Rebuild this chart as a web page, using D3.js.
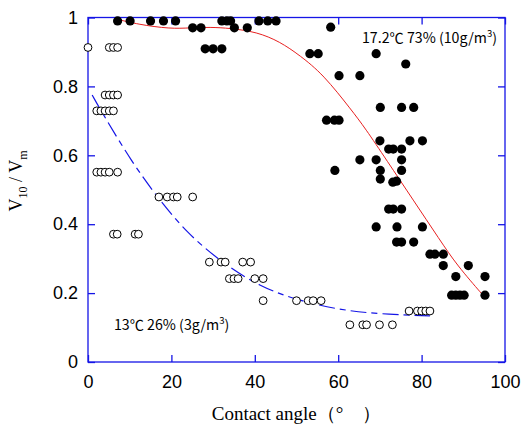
<!DOCTYPE html>
<html><head><meta charset="utf-8">
<script src="https://cdn.jsdelivr.net/npm/d3@7"></script>
<style>body{margin:0;background:#fff}svg{display:block}</style>
</head><body>
<script>
// Data
const hiHumidity = [ // 17.2°C 73% (10g/m3), filled dots [angle, V10/Vm]
 [7.1,0.99],[10.1,0.99],[15,0.99],[18.1,0.99],[21,0.99],[32.1,0.99],[33.3,0.99],[34.2,0.99],[41,0.99],[43.1,0.99],[45.1,0.99],
 [25.1,0.97],[27.1,0.97],[35.1,0.97],[38.2,0.97],[58.2,0.972],
 [28.1,0.909],[30,0.909],[32.1,0.909],
 [53.2,0.895],[55.2,0.895],[69.1,0.895],[76.2,0.865],
 [60.2,0.831],[65.2,0.831],
 [70.1,0.739],[75.2,0.739],[78.1,0.739],
 [57.2,0.702],[59.1,0.702],[60.2,0.702],
 [70,0.642],[77.2,0.642],[80.2,0.642],
 [72.1,0.618],[73.2,0.618],[75.2,0.618],
 [65.2,0.587],[69.1,0.587],[75.2,0.587],
 [59.2,0.556],[70.1,0.556],[75.2,0.556],
 [70.1,0.531],[73.1,0.522],[74,0.525],
 [72.1,0.444],[73.2,0.444],[75.2,0.444],
 [69.1,0.392],[74.1,0.392],[80.2,0.392],
 [74,0.348],[75.2,0.348],[78.1,0.348],
 [82,0.313],[83.2,0.313],[85.2,0.313],
 [85.2,0.28],[91.2,0.28],
 [88.2,0.248],[95.2,0.248],
 [87.2,0.194],[88.2,0.194],[89.2,0.194],[90.2,0.194],[95.2,0.194]
];
const loHumidity = [ // 13°C 26% (3g/m3), open circles
 [0,0.913],[5.1,0.913],[6.1,0.913],[7.1,0.913],
 [4.1,0.775],[5.1,0.775],[6.1,0.775],[7.1,0.775],
 [2.1,0.729],[3.1,0.729],[4.1,0.729],[5.1,0.729],[6.1,0.729],
 [2.1,0.551],[3.1,0.551],[4.1,0.551],[5.1,0.551],[7.1,0.551],
 [17,0.479],[19,0.479],[20.5,0.479],[21.4,0.479],[25.1,0.479],
 [6.1,0.371],[7,0.371],[11.3,0.371],[12.1,0.371],
 [29.1,0.29],[31.9,0.29],[32.9,0.29],[37.1,0.29],[39,0.29],
 [33.9,0.242],[35,0.242],[36,0.242],[40,0.242],[42,0.242],
 [42,0.178],[50,0.178],[52.8,0.178],[54,0.178],[55.9,0.178],
 [62.8,0.108],[65.9,0.108],[66.8,0.108],[69.9,0.108],[73,0.108],
 [77,0.148],[79,0.148],[80,0.148],[81,0.148],[82,0.148]
];
const hiFit = [[7,0.995],[12,0.98],[19.7,0.967],[24.5,0.970],[29.3,0.972],[34,0.969],[40.5,0.958],[46,0.93],[50.8,0.89],[56.4,0.835],[63.2,0.731],[66.4,0.68],[71.6,0.586],[78,0.47],[84.4,0.354],[88.4,0.282],[95,0.19]];
const loFit = [[1,0.775],[3.7,0.717],[10.5,0.581],[16.5,0.48],[23.7,0.374],[32.4,0.286],[41.2,0.219],[50,0.18],[60.4,0.151],[70,0.139],[82,0.134]];
const xTicks = [0,20,40,60,80,100];
const yTicks = [0,0.2,0.4,0.6,0.8,1];

const W=524,H=428, m={l:88,r:19,t:17.5,b:66};
const svg=d3.select("body").append("svg").attr("width",W).attr("height",H);
const x=d3.scaleLinear().domain([0,100]).range([m.l,W-m.r]);
const y=d3.scaleLinear().domain([0,1]).range([H-m.b,m.t]);
const blue="#1515e6";

// frame
svg.append("rect").attr("x",x(0)).attr("y",y(1)).attr("width",x(100)-x(0)).attr("height",y(0)-y(1))
 .attr("fill","none").attr("stroke",blue).attr("stroke-width",1.3);

const tickFont='"Liberation Sans", Arial, sans-serif';
const gx=svg.append("g").attr("transform",`translate(0,${y(0)})`)
 .call(d3.axisBottom(x).tickValues(xTicks).tickFormat(d3.format("d")).tickSizeInner(-7).tickSizeOuter(0).tickPadding(13));
const gxt=svg.append("g").attr("transform",`translate(0,${y(1)})`)
 .call(d3.axisTop(x).tickValues(xTicks).tickFormat("").tickSizeInner(-7).tickSizeOuter(0));
const gy=svg.append("g").attr("transform",`translate(${x(0)},0)`)
 .call(d3.axisLeft(y).tickValues(yTicks).tickFormat(d=>d===0||d===1?d3.format("d")(d):d3.format(".1f")(d)).tickSizeInner(-7).tickSizeOuter(0).tickPadding(10));
const gyr=svg.append("g").attr("transform",`translate(${x(100)},0)`)
 .call(d3.axisRight(y).tickValues(yTicks).tickFormat("").tickSizeInner(-7).tickSizeOuter(0));
[gx,gxt,gy,gyr].forEach(g=>{
 g.select(".domain").remove();
 g.selectAll(".tick line").attr("stroke",blue).attr("stroke-width",1.3);
 g.selectAll("text").attr("fill","#000").style("font-family",tickFont).style("font-size","18px");
});

// fit curves
const line=d3.line().x(d=>x(d[0])).y(d=>y(d[1])).curve(d3.curveBasis);
svg.append("path").datum(hiFit).attr("d",line).attr("fill","none").attr("stroke","#e82020").attr("stroke-width",1);
svg.append("path").datum(loFit).attr("d",line).attr("fill","none").attr("stroke",blue).attr("stroke-width",1.2).attr("stroke-dasharray","16,5,6,5");

// points
svg.append("g").selectAll("circle").data(loHumidity).join("circle")
 .attr("cx",d=>x(d[0])).attr("cy",d=>y(d[1])).attr("r",3.9).attr("fill","#fff").attr("stroke","#000").attr("stroke-width",1);
svg.append("g").selectAll("circle").data(hiHumidity).join("circle")
 .attr("cx",d=>x(d[0])).attr("cy",d=>y(d[1])).attr("r",4.6).attr("fill","#000");

// annotations
const annFont='"Noto Sans CJK JP", "Liberation Sans", sans-serif';
function ann(tx,ty,pre,post){
 const t=svg.append("text").attr("x",tx).attr("y",ty).style("font-family",annFont).style("font-size","14.2px").attr("fill","#000");
 t.append("tspan").text(pre);
 t.append("tspan").attr("dy",-6).style("font-size","9.5px").text("3");
 t.append("tspan").attr("dy",6).text(post);
}
ann(362,43,"17.2℃ 73% (10g/m",")");
ann(114,330,"13℃ 26% (3g/m",")");

// axis titles
svg.append("text").attr("x",(x(0)+x(100))/2).attr("y",420).attr("text-anchor","middle")
 .style("font-family",'"Liberation Serif", "Times New Roman", serif').style("font-size","19px").text("Contact angle（°　）");
const yl=svg.append("text").attr("transform",`translate(22,181) rotate(-90)`).attr("text-anchor","middle")
 .style("font-family",'"Liberation Serif", "Times New Roman", serif').style("font-size","18px");
yl.append("tspan").text("V");
yl.append("tspan").attr("dy",5).style("font-size","12px").text("10");
yl.append("tspan").attr("dy",-5).text(" / V");
yl.append("tspan").attr("dy",5).style("font-size","12px").text("m");
</script>
</body></html>
